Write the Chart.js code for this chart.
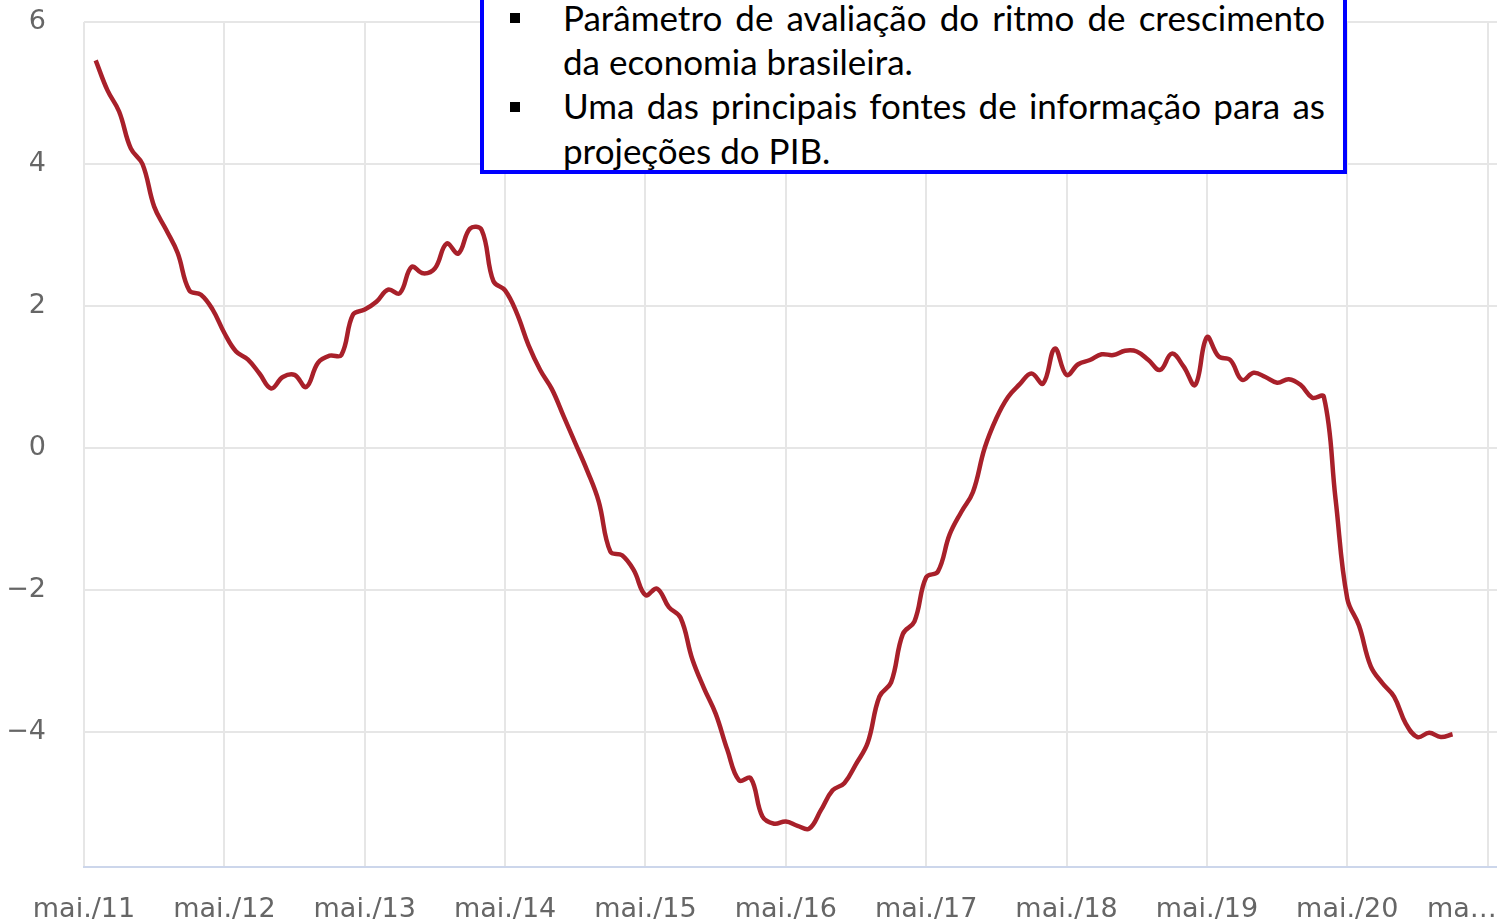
<!DOCTYPE html>
<html>
<head>
<meta charset="utf-8">
<script src="https://cdn.jsdelivr.net/npm/chart.js@4"></script>
<style>
  body { margin: 0; background: #fff; }
  #wrap { position: relative; width: 1497px; height: 922px; overflow: hidden; }
  #box {
    position: absolute; left: 480px; top: -12px; width: 867px; height: 186px;
    box-sizing: border-box; border: 4px solid #0000ff; background: #fff;
    font-family: Lato, "Noto Sans", sans-serif; font-size: 35px; color: #000;
  }
  .line { position: absolute; left: 79px; width: 762px; line-height: 44px; white-space: nowrap; }
  .full { text-align: justify; text-align-last: justify; }
  .bullet { position: absolute; left: 26px; width: 10px; height: 10px; background: #000; }
</style>
</head>
<body>
<div id="wrap">
  <canvas id="myChart" width="1497" height="922"></canvas>
  <div id="box">
    <div class="bullet" style="top:21px"></div>
    <div class="line full" style="top:3px">Parâmetro de avaliação do ritmo de crescimento</div>
    <div class="line" style="top:47px">da economia brasileira.</div>
    <div class="bullet" style="top:110px"></div>
    <div class="line full" style="top:91px">Uma das principais fontes de informação para as</div>
    <div class="line" style="top:136px">projeções do PIB.</div>
  </div>
</div>
<script>
// meses contados a partir de mai./11 (0 = mai./11, 1 = jun./11 ...)
const firstMonth = 1;

// variação acumulada em 12 meses (%), jun./11 a fev./21
const values = [
  5.46, 5.04, 4.74, 4.22, 4.00, 3.40, 3.08, 2.75, 2.22, 2.16, 1.95,
  1.62, 1.36, 1.25, 1.05, 0.84, 1.00, 1.03, 0.86, 1.20, 1.30, 1.31, 1.88,
  1.95, 2.06, 2.23, 2.18, 2.55, 2.46, 2.53, 2.88, 2.74, 3.09, 3.07, 2.35,
  2.22, 1.90, 1.45, 1.10, 0.83, 0.45, 0.07, -0.31, -0.75, -1.46, -1.51, -1.72,
  -2.07, -1.98, -2.24, -2.39, -2.97, -3.38, -3.74, -4.25, -4.68, -4.65, -5.19, -5.29,
  -5.26, -5.32, -5.36, -5.10, -4.82, -4.72, -4.45, -4.15, -3.50, -3.30, -2.62, -2.44,
  -1.82, -1.74, -1.22, -0.90, -0.62, 0.00, 0.42, 0.72, 0.90, 1.05, 0.91, 1.40,
  1.03, 1.18, 1.24, 1.32, 1.31, 1.37, 1.36, 1.24, 1.10, 1.33, 1.15, 0.89,
  1.56, 1.29, 1.24, 0.96, 1.06, 1.00, 0.92, 0.97, 0.89, 0.71, 0.72, -0.72,
  -2.12, -2.50, -3.07, -3.31, -3.50, -3.88, -4.07, -4.01, -4.07, -4.03
];

// eixo x
const xTickValues = [0, 12, 24, 36, 48, 60, 72, 84, 96, 108, 120];
const xTickLabels = ['mai./11', 'mai./12', 'mai./13', 'mai./14', 'mai./15', 'mai./16',
  'mai./17', 'mai./18', 'mai./19', 'mai./20', 'ma…'];

// eixo y
const yTickValues = [-4, -2, 0, 2, 4, 6];

const points = values.map((v, i) => ({ x: firstMonth + i, y: v }));

const tickFont = { family: 'DejaVu Sans', size: 27 };

const config = {
  type: 'line',
  data: {
    datasets: [{
      label: 'IBC-Br',
      data: points,
      borderColor: '#a8202a',
      borderWidth: 4.5,
      pointRadius: 0,
      tension: 0.4,
      fill: false
    }]
  },
  options: {
    responsive: false,
    animation: false,
    layout: { padding: { top: 22, right: 0, bottom: 0, left: 0 } },
    plugins: { legend: { display: false }, tooltip: { enabled: false } },
    scales: {
      x: {
        type: 'linear',
        min: 0,
        max: 120.8,
        afterBuildTicks: (scale) => { scale.ticks = xTickValues.map(v => ({ value: v })); },
        afterFit: (scale) => {
          scale.height = 55;
          scale.paddingRight = 0; scale.paddingLeft = 0;
          scale.paddingTop = 0; scale.paddingBottom = 0;
        },
        ticks: {
          color: '#666666',
          font: tickFont,
          padding: 27,
          maxRotation: 0,
          autoSkip: false,
          callback: (value) => {
            const label = xTickLabels[xTickValues.indexOf(value)];
            // último rótulo cortado, deslocado para a esquerda
            return value === 120 ? label + '\u2007\u2007\u2007' : label;
          }
        },
        grid: { color: '#e6e6e6', lineWidth: 2, drawTicks: false },
        border: { display: true, color: '#ccd6eb', width: 2 }
      },
      y: {
        min: -5.9,
        max: 6,
        afterBuildTicks: (scale) => { scale.ticks = yTickValues.map(v => ({ value: v })); },
        afterFit: (scale) => {
          scale.width = 84;
          scale.paddingTop = 0; scale.paddingBottom = 0;
        },
        ticks: {
          color: '#666666',
          font: tickFont,
          padding: 38,
          callback: (value) => value < 0 ? '\u2212' + Math.abs(value) : String(value)
        },
        grid: { color: '#e6e6e6', lineWidth: 2, drawTicks: false },
        border: { display: false }
      }
    }
  }
};

const myChart = new Chart(document.getElementById('myChart'), config);
</script>
</body>
</html>
